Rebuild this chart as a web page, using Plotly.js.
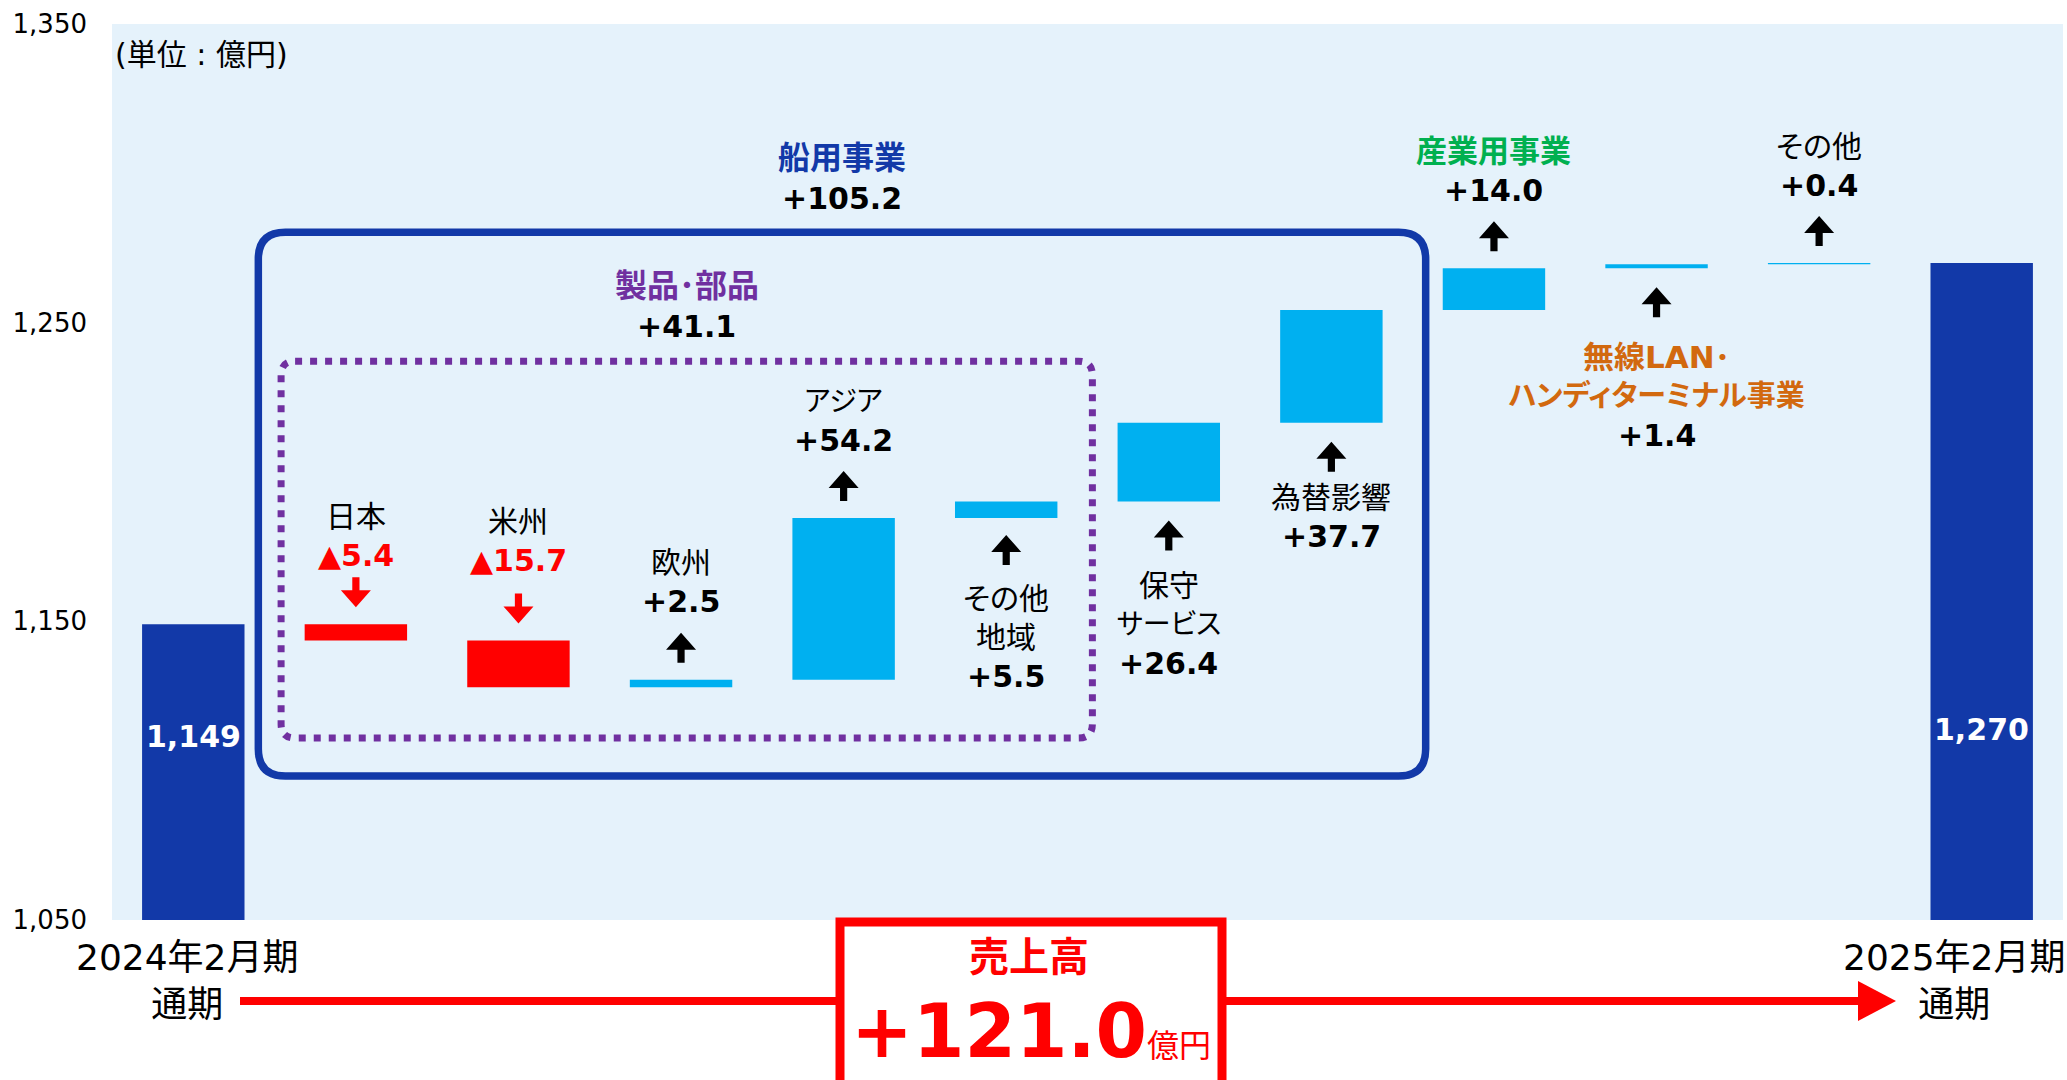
<!DOCTYPE html>
<html>
<head>
<meta charset="utf-8">
<script src="https://cdn.plot.ly/plotly-3.0.1.min.js"></script>
<style>
  html, body { margin: 0; padding: 0; background: #ffffff; }
  #chart { width: 2067px; height: 1080px; }
  /* proportional kana widths for Japanese labels */
  #chart svg text { font-feature-settings: "palt" 1; }
</style>
</head>
<body>
<div id="chart"></div>
<script>
// ---- 売上高 増減要因（億円） ----
const periodLabels = ['2024年2月期<br>通期', '2025年2月期<br>通期'];
const itemNames = ['日本', '米州', '欧州', 'アジア', 'その他<br>地域', '保守<br>サービス', '為替影響',
                   '産業用事業', '無線LAN･<br>ハンディターミナル事業', 'その他'];
const startSales = 1149;
const deltas = [-5.4, -15.7, 2.5, 54.2, 5.5, 26.4, 37.7, 14.0, 1.4, 0.4];
const segmentNames = ['船用事業', '製品･部品'];
const segmentMembers = [[0, 1, 2, 3, 4, 5, 6], [0, 1, 2, 3, 4]];
const yTicks = [1050, 1150, 1250, 1350];
const unitNote = '(単位 : 億円)';
const totalTitle = '売上高';

// ---- page geometry and styling ----
const W = 2067, H = 1080;
const M = { l: 112, r: 4, t: 24, b: 160 };
const PW = W - M.l - M.r, PH = H - M.t - M.b;
const Y_RANGE = [1050, 1350];
const X_RANGE = [-0.5, deltas.length + 1.5];
const pxPerCat = PW / (X_RANGE[1] - X_RANGE[0]);
const pxPerUnit = PH / (Y_RANGE[1] - Y_RANGE[0]);
const px = x => (x - M.l) / PW;          // page pixel -> paper x
const py = y => (H - M.b - y) / PH;      // page pixel -> paper y

const C = {
  navy: '#1239A8', sky: '#00B0F0', red: '#FF0000', purple: '#7030A0',
  green: '#00B050', orange: '#D2690F', bg: '#E5F2FB', ink: '#000000'
};
const FONT = 'DejaVu Sans, "Noto Sans CJK JP", sans-serif';
const LINE = 39;

// label placement for each step: above or below its bar
const side = ['up', 'up', 'up', 'up', 'down', 'down', 'down', 'up', 'down', 'up'];
const textGap = [69, 80, 78, 77, 81, 84, 75, 78, 89, 77];
const arrowGap = [17, 17, 17, 17, 17, 19, 19, 17, 19, 17];
const nameColor = [C.ink, C.ink, C.ink, C.ink, C.ink, C.ink, C.ink, C.green, C.orange, C.ink];

// katakana-heavy lines are set a little smaller so they keep a compact width
const kanaShare = t => (t.match(/[\u30A0-\u30FF]/g) || []).length / t.length;

// ---- derived values ----
const fmt1 = v => (v < 0 ? '▲' : '+') + Math.abs(v).toFixed(1);
const fmtInt = v => Math.round(v).toLocaleString('en-US');
const totalDelta = Math.round(deltas.reduce((a, b) => a + b, 0) * 10) / 10;
const endSales = Math.round((startSales + totalDelta) * 10) / 10;

const lo = [], hi = [];
let level = startSales;
deltas.forEach(d => {
  const a = level, b = level + d;
  lo.push(Math.min(a, b)); hi.push(Math.max(a, b));
  level = b;
});

const xs = Array.from({ length: deltas.length + 2 }, (_, i) => i);

const trace = {
  type: 'waterfall',
  x: xs,
  y: [startSales, ...deltas, endSales],
  measure: ['absolute', ...deltas.map(() => 'relative'), 'total'],
  width: 0.63,
  connector: { visible: false },
  increasing: { marker: { color: C.sky, line: { width: 0 } } },
  decreasing: { marker: { color: C.red, line: { width: 0 } } },
  totals: { marker: { color: C.navy, line: { width: 0 } } },
  textinfo: 'none',
  hoverinfo: 'skip'
};

const annotations = [];
const shapes = [];

function note(o) {
  annotations.push(Object.assign({ showarrow: false, xanchor: 'center', yanchor: 'middle' }, o));
}

// arrow drawn in pixels around an anchor point; positive offsets point up
function arrowShape(x, y, base, tip, color) {
  const dir = Math.sign(tip - base);
  const head = 17, halfHead = 15, halfStem = 3.6;
  const neck = tip - dir * head;
  const path = `M${-halfStem},${base} L${-halfStem},${neck} L${-halfHead},${neck} L0,${tip} ` +
               `L${halfHead},${neck} L${halfStem},${neck} L${halfStem},${base} Z`;
  return {
    type: 'path', xref: 'x', yref: 'y', xsizemode: 'pixel', ysizemode: 'pixel',
    xanchor: x, yanchor: y, path, fillcolor: color, line: { width: 0 }, layer: 'above'
  };
}

function roundRect(x0, x1, y0, y1, r) {
  const rx = r / pxPerCat, ry = r / pxPerUnit;
  return `M${x0 + rx},${y1} L${x1 - rx},${y1} Q${x1},${y1} ${x1},${y1 - ry} ` +
         `L${x1},${y0 + ry} Q${x1},${y0} ${x1 - rx},${y0} L${x0 + rx},${y0} ` +
         `Q${x0},${y0} ${x0},${y0 + ry} L${x0},${y1 - ry} Q${x0},${y1} ${x0 + rx},${y1} Z`;
}

// step labels and arrows
deltas.forEach((d, i) => {
  const x = i + 1;
  const above = side[i] === 'up';
  const anchor = above ? hi[i] : lo[i];
  const styled = nameColor[i] !== C.ink;
  const lines = itemNames[i].split('<br>').map(t => {
    const base = styled ? 31 : 30;
    return {
      text: styled ? `<b>${t}</b>` : t, color: nameColor[i],
      size: kanaShare(t) > 0.5 ? base - 2 : base
    };
  });
  lines.push({ text: `<b>${fmt1(d)}</b>`, color: d < 0 ? C.red : C.ink, size: 30 });
  const L = lines.length;
  lines.forEach((ln, k) => {
    const shift = above ? textGap[i] + (L - 1 - k) * LINE : -(textGap[i] + k * LINE);
    note({ xref: 'x', yref: 'y', x, y: anchor, yshift: shift, text: ln.text,
           font: { family: FONT, size: ln.size, color: ln.color } });
  });
  const g = arrowGap[i];
  let base, tip;
  if (above) {
    if (d < 0) { base = g + 30; tip = g; } else { base = g; tip = g + 30; }
  } else { base = -(g + 30); tip = -g; }
  shapes.push(arrowShape(x, anchor, base, tip, d < 0 ? C.red : C.ink));
});

// segment frames with their subtotals
const frameStyle = [
  { padL: 0.6, padR: 0.58, y0: 1098.2, y1: 1280.3, r: 27, color: C.navy, width: 7.5, dash: 'solid',
    nameShift: 74, valueShift: 34 },
  { padL: 0.46, padR: 0.53, y0: 1110.9, y1: 1237.1, r: 14, color: C.purple, width: 7, dash: '7px,8px',
    nameShift: 75, valueShift: 35 }
];
segmentNames.forEach((name, s) => {
  const st = frameStyle[s];
  const mem = segmentMembers[s];
  const x0 = mem[0] + 1 - st.padL, x1 = mem[mem.length - 1] + 1 + st.padR;
  shapes.push({ type: 'path', xref: 'x', yref: 'y', path: roundRect(x0, x1, st.y0, st.y1, st.r),
                line: { color: st.color, width: st.width, dash: st.dash }, fillcolor: 'rgba(0,0,0,0)',
                layer: 'above' });
  const sub = Math.round(mem.reduce((a, m) => a + deltas[m], 0) * 10) / 10;
  const xc = (x0 + x1) / 2;
  note({ xref: 'x', yref: 'y', x: xc, y: st.y1, yshift: st.nameShift, text: `<b>${name}</b>`,
         font: { family: FONT, size: 32, color: st.color } });
  note({ xref: 'x', yref: 'y', x: xc, y: st.y1, yshift: st.valueShift, text: `<b>${fmt1(sub)}</b>`,
         font: { family: FONT, size: 30, color: C.ink } });
});

// period totals inside the navy bars
note({ xref: 'x', yref: 'y', x: 0, y: Y_RANGE[0], yshift: 184, text: `<b>${fmtInt(startSales)}</b>`,
       font: { family: FONT, size: 30, color: '#ffffff' } });
note({ xref: 'x', yref: 'y', x: xs.length - 1, y: Y_RANGE[0], yshift: 191, text: `<b>${fmtInt(endSales)}</b>`,
       font: { family: FONT, size: 30, color: '#ffffff' } });

// period names under the axis
note({ xref: 'x', yref: 'paper', x: 0, xshift: -6, y: py(981), text: periodLabels[0],
       font: { family: FONT, size: 36, color: C.ink } });
note({ xref: 'x', yref: 'paper', x: xs.length - 1, xshift: -27, y: py(981), text: periodLabels[1],
       font: { family: FONT, size: 36, color: C.ink } });

// unit note
note({ xref: 'paper', yref: 'paper', x: px(113), xanchor: 'left', y: py(54), text: unitNote,
       font: { family: FONT, size: 30, color: C.ink } });

// overall change banner with arrow
shapes.push({ type: 'line', xref: 'paper', yref: 'paper', x0: px(240), x1: px(836), y0: py(1001), y1: py(1001),
              line: { color: C.red, width: 8 } });
shapes.push({ type: 'line', xref: 'paper', yref: 'paper', x0: px(1226), x1: px(1862), y0: py(1001), y1: py(1001),
              line: { color: C.red, width: 8 } });
shapes.push({ type: 'path', xref: 'paper', yref: 'paper',
              path: `M${px(1858)},${py(981)} L${px(1896)},${py(1001)} L${px(1858)},${py(1021)} Z`,
              fillcolor: C.red, line: { width: 0 } });
shapes.push({ type: 'rect', xref: 'paper', yref: 'paper', x0: px(840), x1: px(1222), y0: py(922), y1: py(1100),
              line: { color: C.red, width: 9 }, fillcolor: '#ffffff' });
note({ xref: 'paper', yref: 'paper', x: px(1029), y: py(957), text: `<b>${totalTitle}</b>`,
       font: { family: FONT, size: 40, color: C.red } });
note({ xref: 'paper', yref: 'paper', x: px(1031), y: py(1031),
       text: `<b>${fmt1(totalDelta)}</b><span style="font-size:32px">億円</span>`,
       font: { family: FONT, size: 74, color: C.red } });

const layout = {
  width: W, height: H,
  margin: M,
  paper_bgcolor: '#ffffff',
  plot_bgcolor: C.bg,
  showlegend: false,
  xaxis: { range: X_RANGE, showticklabels: false, showgrid: false, zeroline: false, showline: false,
           ticks: '', fixedrange: true },
  yaxis: { range: Y_RANGE, tickvals: yTicks, tickformat: ',', showgrid: false, zeroline: false,
           showline: false, ticks: '', ticklabelstandoff: 24,
           tickfont: { family: FONT, size: 26, color: C.ink }, fixedrange: true },
  shapes,
  annotations
};

Plotly.newPlot('chart', [trace], layout, { displayModeBar: false, staticPlot: true });
</script>
</body>
</html>
